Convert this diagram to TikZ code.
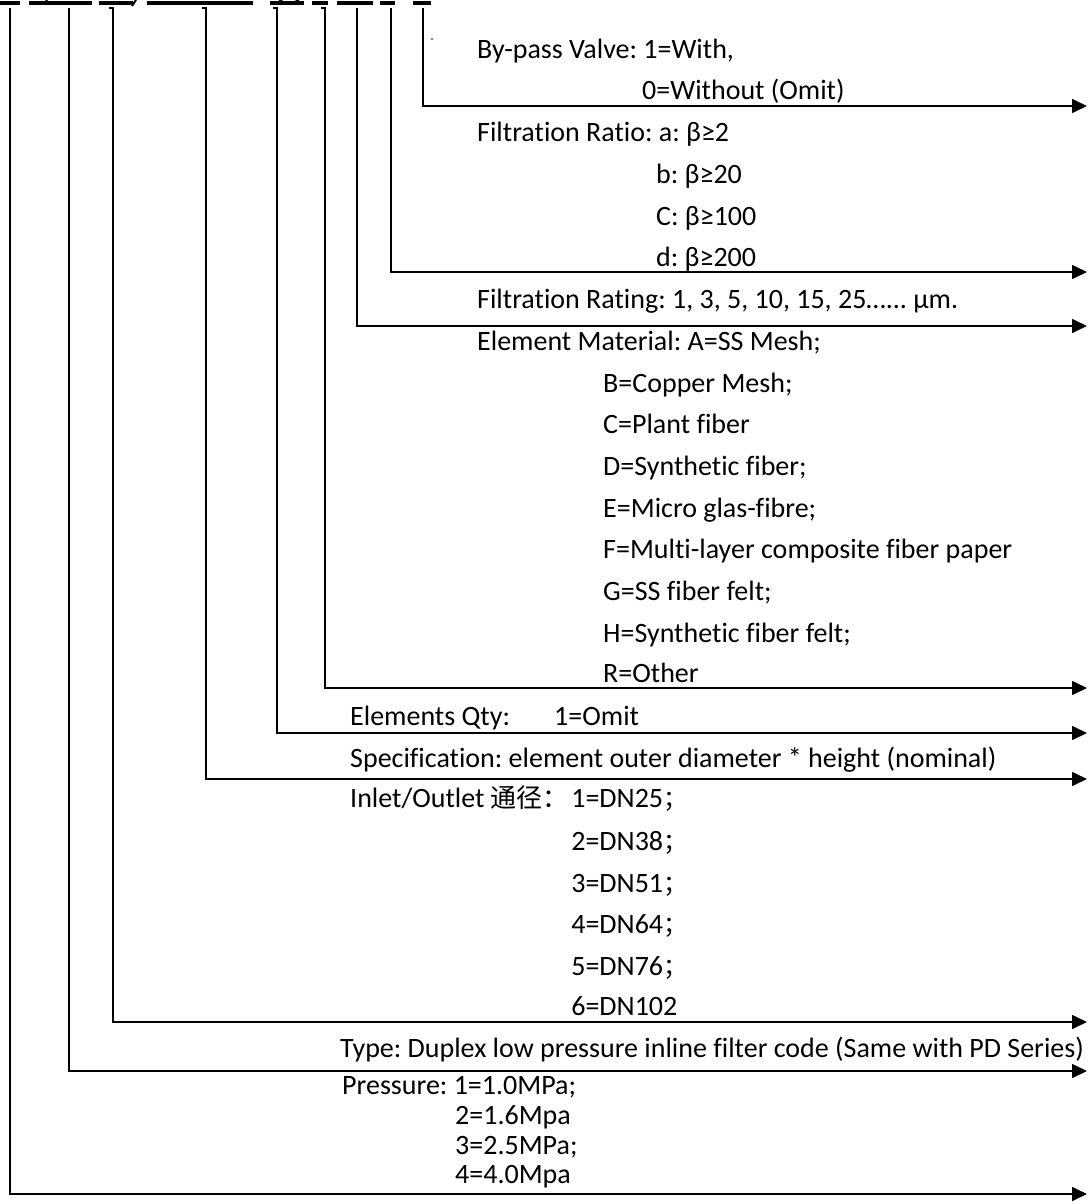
\documentclass[tikz,border=0pt]{standalone}
\usepackage{fontspec}
\setmainfont{Carlito}[Ligatures=NoCommon]
\newfontfamily\cjk{Noto Sans CJK SC}
\usetikzlibrary{arrows.meta}
\frenchspacing
\begin{document}
\begin{tikzpicture}[x=1pt,y=-1pt,
  lbl/.style={anchor=base west, inner sep=0pt, font=\fontsize{28}{33}\selectfont},
  conn/.style={line width=1.6pt, -{Triangle[length=15pt,width=14pt]}},
  bar/.style={line width=4pt},
  frag/.style={line width=2pt}]
\useasboundingbox (0,0) rectangle (1088,1204);

% cut-off code characters along the top edge
\foreach \a/\b in {0/20,29/92,99/133,147/253,270/304,312/328,337/373,380/395,413/431}
  \draw[bar] (\a,3.5) -- (\b,3.5);
\draw[frag] (46,0) .. controls (48,3) .. (54,2.5);
\draw[frag] (132,6) -- (136,0);
\draw[frag] (279,0) .. controls (285,4) and (293,4) .. (299,0);
\fill (432,39) circle (0.9pt);

% texts
\node[lbl] (bp) at (477,59) {By-pass Valve: 1=With,};
\node[lbl] (bp0) at (642,100) {0=Without (Omit)};
\node[lbl] (frA) at (477,142) {Filtration Ratio: a: β≥2};
\node[lbl] (frB) at (656,183) {b: β≥20};
\node[lbl] (frC) at (656,225) {C: β≥100};
\node[lbl] (frD) at (656,266) {d: β≥200};
\node[lbl] (rat) at (477,308) {Filtration Rating: 1, 3, 5, 10, 15, 25…... µm.};
\node[lbl] (mA) at (477,350) {Element Material: A=SS Mesh;};
\node[lbl] (mB) at (603,392) {B=Copper Mesh;};
\node[lbl] (mC) at (603,433) {C=Plant fiber};
\node[lbl] (mD) at (603,475) {D=Synthetic fiber;};
\node[lbl] (mE) at (603,517) {E=Micro glas-fibre;};
\node[lbl] (mF) at (603,558) {F=Multi-layer composite fiber paper};
\node[lbl] (mG) at (603,600) {G=SS fiber felt;};
\node[lbl] (mH) at (603,642) {H=Synthetic fiber felt;};
\node[lbl] (mR) at (603,682) {R=Other};
\node[lbl] (qty) at (350,725) {Elements Qty:};
\node[lbl] (qty1) at (554,725) {1=Omit};
\node[lbl] (spec) at (350,767) {Specification: element outer diameter * height (nominal)};
\node[lbl] (inl) at (350,807) {Inlet/Outlet {\cjk\fontsize{26}{30}\selectfont 通径：}};
\node[lbl] (dn1) at ([xshift=2pt]inl.base east) {1=DN25{\cjk\fontsize{24}{30}\selectfont ；}};
\node[lbl] (dn2) at ([yshift=-43pt]dn1.base west) {2=DN38{\cjk\fontsize{24}{30}\selectfont ；}};
\node[lbl] (dn3) at ([yshift=-85pt]dn1.base west) {3=DN51{\cjk\fontsize{24}{30}\selectfont ；}};
\node[lbl] (dn4) at ([yshift=-126pt]dn1.base west) {4=DN64{\cjk\fontsize{24}{30}\selectfont ；}};
\node[lbl] (dn5) at ([yshift=-168pt]dn1.base west) {5=DN76{\cjk\fontsize{24}{30}\selectfont ；}};
\node[lbl] (dn6) at ([yshift=-208pt]dn1.base west) {6=DN102};
\node[lbl] (typ) at (340,1057) {Type: Duplex low pressure inline filter code (Same with PD Series)};
\node[lbl] (pr) at (342,1094) {Pressure: 1=1.0MPa;};
\node[lbl] (p2) at (455,1124) {2=1.6Mpa};
\node[lbl] (p3) at (455,1154) {3=2.5MPa;};
\node[lbl] (p4) at (455,1183) {4=4.0Mpa};

% connector start points (under the code characters) and arrow ends
\coordinate (s1) at (10,8);
\coordinate (s2) at (69,8);
\coordinate (s3) at (109,8);
\coordinate (s4) at (202,8);
\coordinate (s5) at (273,8);
\coordinate (s6) at (321,8);
\coordinate (s7) at (357,8);
\coordinate (s8) at (391,8);
\coordinate (s9) at (423,8);
\coordinate (e1) at (1087,1194);
\coordinate (e2) at (1087,1071);
\coordinate (e3) at (1087,1022);
\coordinate (e4) at (1087,779);
\coordinate (e5) at (1087,733);
\coordinate (e6) at (1087,688);
\coordinate (e7) at (1087,326);
\coordinate (e8) at (1087,272);
\coordinate (e9) at (1087,106);

\draw[conn] (s1) |- (e1);
\draw[conn] (s2) |- (e2);
\draw[conn] (s3) -- ++(4,0) |- (e3);
\draw[conn] (s4) -- ++(4,0) |- (e4);
\draw[conn] (s5) -- ++(4,0) |- (e5);
\draw[conn] (s6) -- ++(4,0) |- (e6);
\draw[conn] (s7) |- (e7);
\draw[conn] (s8) |- (e8);
\draw[conn] (s9) |- (e9);
\end{tikzpicture}
\end{document}
